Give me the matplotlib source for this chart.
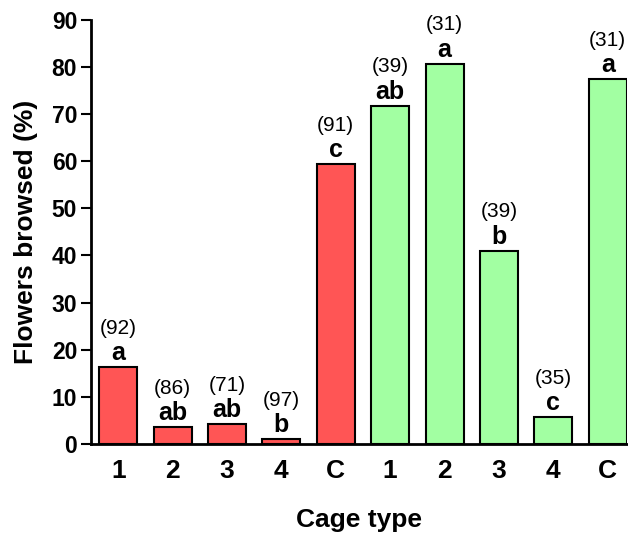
import matplotlib.pyplot as plt

plt.rcParams['font.family'] = ['Liberation Sans', 'DejaVu Sans']

cage_types = ["1", "2", "3", "4", "C", "1", "2", "3", "4", "C"]
browsed_pct = [16.3, 3.5, 4.2, 1.0, 59.4, 71.8, 80.7, 41.0, 5.7, 77.5]
sig_letters = ["a", "ab", "ab", "b", "c", "ab", "a", "b", "c", "a"]
n_flowers = [92, 86, 71, 97, 91, 39, 31, 39, 35, 31]
bar_colors = ["#ff5555"] * 5 + ["#a2ffa2"] * 5

fig = plt.figure(figsize=(6.28, 5.4), dpi=100)
ax = fig.add_axes([0.145, 0.178, 0.853, 0.785])

x = list(range(len(cage_types)))
bars = ax.bar(x, browsed_pct, width=0.7, color=bar_colors,
              edgecolor="black", linewidth=1.5)

# significance letter and sample size above each bar
for xi, h, let, n in zip(x, browsed_pct, sig_letters, n_flowers):
    ax.annotate(let, (xi, h), xytext=(0, 5), textcoords="offset points",
                ha="center", va="baseline", fontsize=18, fontweight="bold")
    ax.annotate(f"({n})", (xi, h), xytext=(0, 24), textcoords="offset points",
                ha="center", va="baseline", fontsize=15)

ax.set_xlim(-0.5, 9.35)
ax.set_ylim(0, 90)
ax.set_yticks(range(0, 91, 10))
ax.set_xticks(x)
ax.set_xticklabels(cage_types)

ax.spines["top"].set_visible(False)
ax.spines["right"].set_visible(False)
ax.spines["left"].set_linewidth(2)
ax.spines["bottom"].set_linewidth(2)

ax.tick_params(axis="y", direction="out", length=7, width=1.5, pad=3,
               labelsize=16.5)
ax.tick_params(axis="x", length=0, pad=11, labelsize=19)
for lbl in ax.get_xticklabels() + ax.get_yticklabels():
    lbl.set_fontweight("bold")

ax.set_xlabel("Cage type", fontsize=19, fontweight="bold", labelpad=18)
ax.set_ylabel("Flowers browsed (%)", fontsize=19, fontweight="bold",
              labelpad=10)

fig.savefig("out.png", dpi=100)
